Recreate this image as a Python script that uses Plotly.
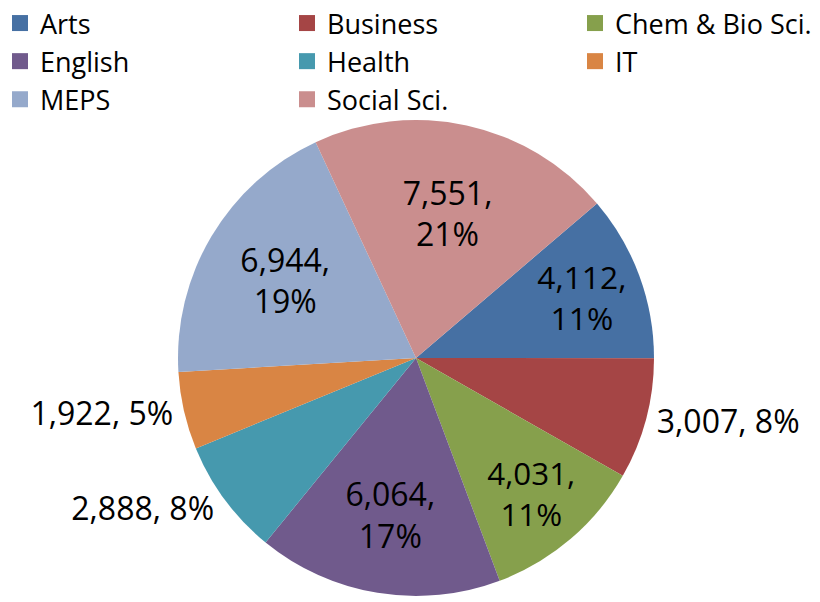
import plotly.graph_objects as go

categories = ["Arts", "Business", "Chem & Bio Sci.", "English", "Health", "IT", "MEPS", "Social Sci."]
values = [4112, 3007, 4031, 6064, 2888, 1922, 6944, 7551]
colors = ["#4670A3", "#A54545", "#86A04C", "#705A8C", "#4699AE", "#D98544", "#95A9CB", "#CA8E8E"]
positions = ["inside", "outside", "inside", "inside", "outside", "outside", "inside", "inside"]
templates = ["%{value:,},<br>%{percent:.0%}" if p == "inside" else "%{value:,}, %{percent:.0%}" for p in positions]

W, H = 820, 602
cx, cy, r = 416, 358, 238
FONT = "Open Sans"

fig = go.Figure()
fig.add_trace(go.Pie(
    labels=categories,
    values=values,
    sort=False,
    direction="clockwise",
    rotation=49.5,
    marker=dict(colors=colors, line=dict(width=0)),
    textposition=positions,
    texttemplate=templates,
    insidetextorientation="horizontal",
    textfont=dict(family=FONT, size=32, color="black"),
    domain=dict(x=[(cx - r) / W, (cx + r) / W], y=[1 - (cy + r) / H, 1 - (cy - r) / H]),
    showlegend=False,
    hoverinfo="label+value+percent",
))

# legend: three columns, filled row by row
legend_names = ["legend", "legend2", "legend3"]
for i, (name, col) in enumerate(zip(categories, colors)):
    fig.add_trace(go.Scatter(
        x=[None], y=[None], mode="markers", name=name,
        marker=dict(symbol="square", size=16, color=col),
        legend=legend_names[i % 3], showlegend=True, hoverinfo="skip",
    ))

text_x = [40, 327, 615]
leg_common = dict(orientation="v", yanchor="top", xanchor="left", y=1 + 1 / H,
                  bgcolor="rgba(0,0,0,0)", font=dict(family=FONT, size=27, color="black"),
                  traceorder="normal", itemsizing="trace")
fig.update_layout(
    width=W, height=H,
    margin=dict(l=0, r=0, t=0, b=0, autoexpand=False),
    paper_bgcolor="white", plot_bgcolor="white",
    font=dict(family=FONT, size=27, color="black"),
    xaxis=dict(visible=False), yaxis=dict(visible=False),
    legend=dict(x=(text_x[0] - 40) / W, **leg_common),
    legend2=dict(x=(text_x[1] - 40) / W, **leg_common),
    legend3=dict(x=(text_x[2] - 40) / W, **leg_common),
)

fig.write_html("out.html", config={"displayModeBar": False},
               post_script="document.body.style.margin='0';")
